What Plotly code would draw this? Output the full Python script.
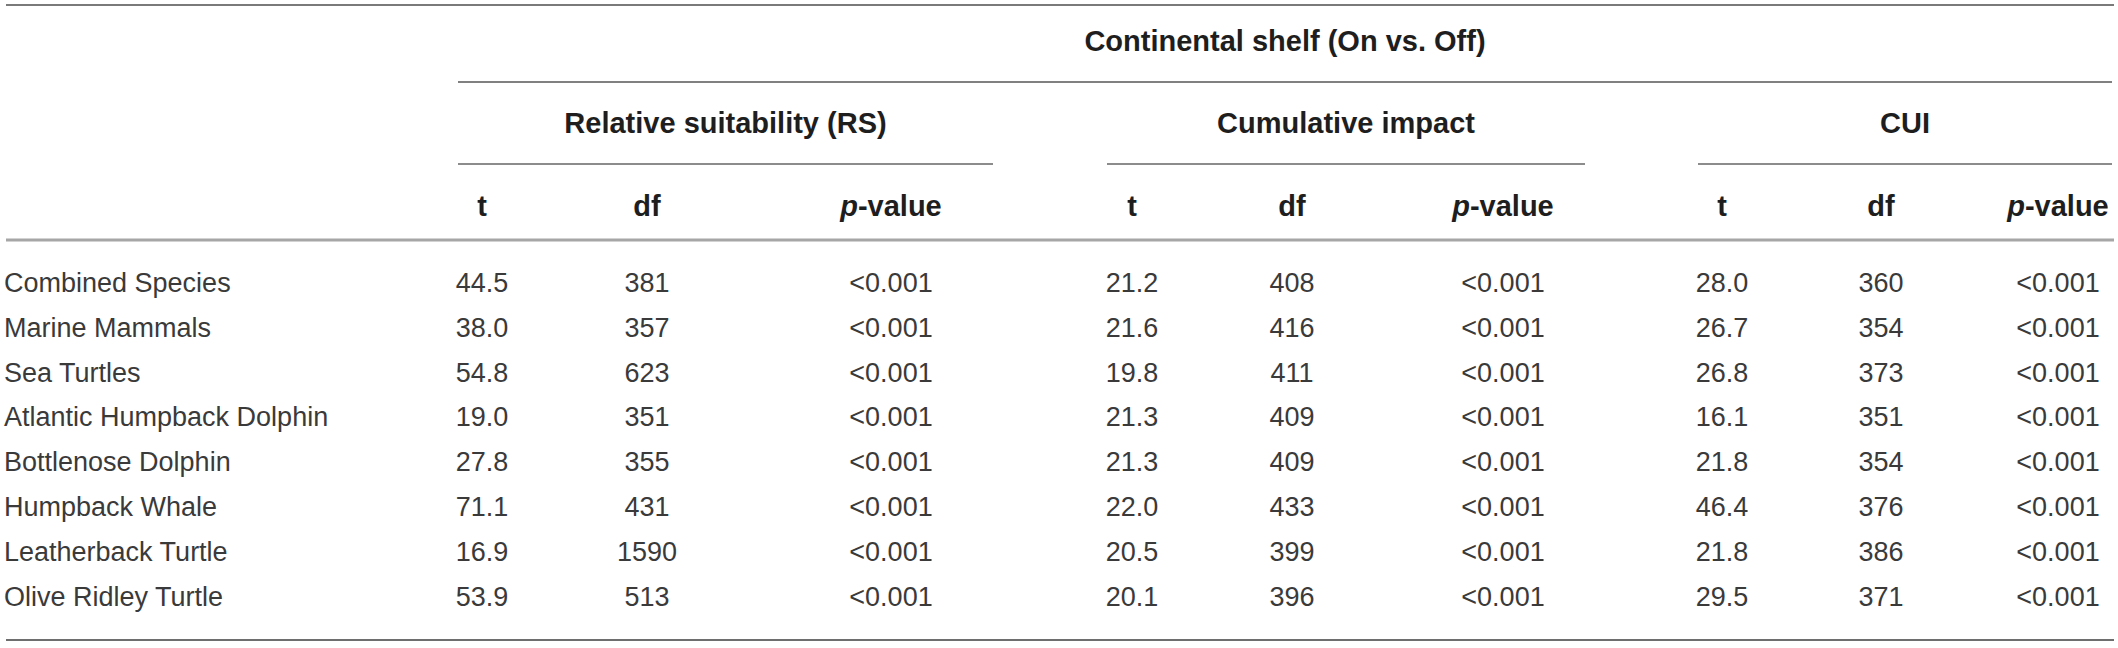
import plotly.graph_objects as go

# table contents
species = [
    "Combined Species",
    "Marine Mammals",
    "Sea Turtles",
    "Atlantic Humpback Dolphin",
    "Bottlenose Dolphin",
    "Humpback Whale",
    "Leatherback Turtle",
    "Olive Ridley Turtle",
]
rs_t = [44.5, 38.0, 54.8, 19.0, 27.8, 71.1, 16.9, 53.9]
rs_df = [381, 357, 623, 351, 355, 431, 1590, 513]
rs_p = ["<0.001"] * 8
ci_t = [21.2, 21.6, 19.8, 21.3, 21.3, 22.0, 20.5, 20.1]
ci_df = [408, 416, 411, 409, 409, 433, 399, 396]
ci_p = ["<0.001"] * 8
cui_t = [28.0, 26.7, 26.8, 16.1, 21.8, 46.4, 21.8, 29.5]
cui_df = [360, 354, 373, 351, 354, 376, 386, 371]
cui_p = ["<0.001"] * 8

top_header = "Continental shelf (On vs. Off)"
group_names = ["Relative suitability (RS)", "Cumulative impact", "CUI"]
sub_headers = ["t", "df", "<i>p</i>-value"]

# layout (pixel-like coordinates, y grows downward)
W, H = 2118, 648
group_spans = [(458, 993), (1107, 1585), (1698, 2112)]
col_x = [[482, 647, 891], [1132, 1292, 1503], [1722, 1881, 2058]]
y_top_header = 44
y_group = 126
y_sub = 209
row_y0, row_step = 285, 44.9
row_y = [row_y0 + i * row_step for i in range(len(species))]
y_bottom = 640

body_font = dict(family="Liberation Sans, Arial, sans-serif", size=27, color="#3a3a3a")
head_font = dict(family="Liberation Sans, Arial, sans-serif", size=29, color="#1e1e1e")

fig = go.Figure()

# row labels
fig.add_trace(go.Scatter(x=[4] * len(species), y=row_y, mode="text", text=species,
                         textposition="middle right", textfont=body_font, hoverinfo="skip"))

columns = [
    (rs_t, rs_df, rs_p),
    (ci_t, ci_df, ci_p),
    (cui_t, cui_df, cui_p),
]
for g, (tv, dv, pv) in enumerate(columns):
    xs = col_x[g]
    fig.add_trace(go.Scatter(x=[xs[0]] * len(tv), y=row_y, mode="text",
                             text=[f"{v:.1f}" for v in tv], textposition="middle center",
                             textfont=body_font, hoverinfo="skip"))
    fig.add_trace(go.Scatter(x=[xs[1]] * len(dv), y=row_y, mode="text",
                             text=[str(v) for v in dv], textposition="middle center",
                             textfont=body_font, hoverinfo="skip"))
    fig.add_trace(go.Scatter(x=[xs[2]] * len(pv), y=row_y, mode="text",
                             text=pv, textposition="middle center",
                             textfont=body_font, hoverinfo="skip"))
    # sub headers
    fig.add_trace(go.Scatter(x=xs, y=[y_sub] * 3, mode="text",
                             text=[f"<b>{s}</b>" for s in sub_headers],
                             textposition="middle center", textfont=head_font, hoverinfo="skip"))

# group headers
fig.add_trace(go.Scatter(x=[(a + b) / 2 for a, b in group_spans], y=[y_group] * 3, mode="text",
                         text=[f"<b>{s}</b>" for s in group_names],
                         textposition="middle center", textfont=head_font, hoverinfo="skip"))
fig.add_trace(go.Scatter(x=[(group_spans[0][0] + group_spans[-1][1]) / 2], y=[y_top_header],
                         mode="text", text=[f"<b>{top_header}</b>"],
                         textposition="middle center", textfont=head_font, hoverinfo="skip"))

# rules
def hline(x0, x1, y, color, width):
    fig.add_shape(type="line", xref="x", yref="y", x0=x0, x1=x1, y0=y, y1=y,
                  line=dict(color=color, width=width))

hline(6, 2114, 5, "#7a7a7a", 2)
hline(group_spans[0][0], group_spans[-1][1], 82, "#808080", 2)
for a, b in group_spans:
    hline(a, b, 164, "#8c8c8c", 2)
hline(6, 2114, 240, "#a6a6a6", 3)
hline(6, 2114, y_bottom, "#6e6e6e", 2)

fig.update_layout(
    width=W, height=H,
    margin=dict(l=0, r=0, t=0, b=0),
    paper_bgcolor="white", plot_bgcolor="white",
    showlegend=False,
    xaxis=dict(range=[0, W], visible=False, fixedrange=True),
    yaxis=dict(range=[H, 0], visible=False, fixedrange=True),
)

# drop the default page margin so the table sits flush like the source image
fig.write_html("out.html", config={"displayModeBar": False},
               post_script="document.body.style.margin='0';")
